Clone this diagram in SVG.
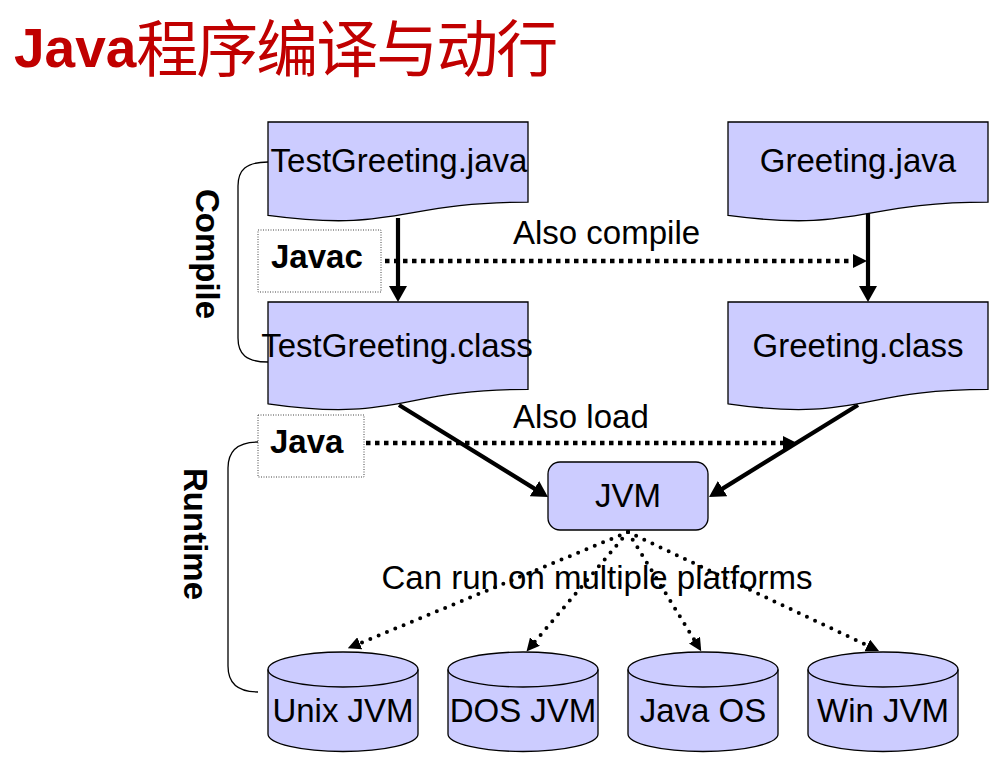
<svg xmlns="http://www.w3.org/2000/svg" width="1007" height="761" viewBox="0 0 1007 761">
<style>
  .node { fill: #ccccff; stroke: #000; stroke-width: 1.3; }
  .lbl { font-family: "Liberation Sans", Arial, sans-serif; font-size: 33px; fill: #000; }
  .bold { font-weight: bold; }
  .mid { text-anchor: middle; }
  .tool { fill: #fff; stroke: #444; stroke-width: 1; stroke-dasharray: 1 1.5; }
  .solid { stroke: #000; stroke-width: 4.2; fill: none; marker-end: url(#ahSolid); }
  .sqdot { stroke: #000; stroke-width: 4.5; fill: none; stroke-dasharray: 4.5 4.5; marker-end: url(#ahSmall); }
  .rdot { stroke: #000; stroke-width: 4; fill: none; stroke-linecap: round; stroke-dasharray: 0 9; marker-end: url(#ahDot); }
  .brace { stroke: #000; stroke-width: 1.3; fill: none; }
</style>
<defs>
  <marker id="ahSolid" markerUnits="userSpaceOnUse" markerWidth="16" markerHeight="18" viewBox="0 0 16 18" refX="10" refY="9" orient="auto">
    <path d="M0,0 L16,9 L0,18 Z" fill="#000"/>
  </marker>
  <marker id="ahSmall" markerUnits="userSpaceOnUse" markerWidth="14" markerHeight="14" viewBox="0 0 14 14" refX="3" refY="7" orient="auto">
    <path d="M0,0 L14,7 L0,14 Z" fill="#000"/>
  </marker>
  <marker id="ahDot" markerUnits="userSpaceOnUse" markerWidth="13" markerHeight="13" viewBox="0 0 13 13" refX="3" refY="6.5" orient="auto">
    <path d="M0,0 L13,6.5 L0,13 Z" fill="#000"/>
  </marker>
</defs>
<rect x="0" y="0" width="1007" height="761" fill="#fff"/>

<text x="14" y="67" font-family="'Liberation Sans', Arial, 'Noto Sans CJK SC', sans-serif" font-size="55" font-weight="bold" fill="#c00000">Java<tspan font-family="'Noto Sans CJK SC', sans-serif" font-weight="normal" font-size="62" letter-spacing="-2" y="72">程序编译与动行</tspan></text>

<g id="brackets">
  <path class="brace" d="M268,162 C246,162 238,170 238,186 V338 C238,354 246,362 268,362"/>
  <path class="brace" d="M258,442 C236,442 228,452 228,468 V666 C228,682 236,692 258,692"/>
  <text class="lbl bold mid" font-size="32" transform="translate(196,254) rotate(90)">Compile</text>
  <text class="lbl bold mid" font-size="32" transform="translate(184,534) rotate(90)">Runtime</text>
</g>

<g id="labels">
  <text class="lbl" x="513" y="244">Also compile</text>
  <text class="lbl" x="513" y="428">Also load</text>
  <text class="lbl mid" x="597" y="589" font-size="34">Can run on multiple platforms</text>
</g>

<g id="connectors">
  <line class="solid" x1="398" y1="218" x2="398" y2="296"/>
  <line class="solid" x1="868" y1="212" x2="868" y2="296"/>
  <line class="solid" x1="399" y1="405" x2="542.9" y2="493.9"/>
  <line class="solid" x1="858" y1="405" x2="714.1" y2="493.9"/>
  <line class="sqdot" x1="385" y1="261" x2="856" y2="261"/>
  <line class="sqdot" x1="366" y1="443" x2="786" y2="443"/>
  <line class="rdot" x1="628" y1="532" x2="357" y2="644.5"/>
  <line class="rdot" x1="628" y1="532" x2="533" y2="643.9"/>
  <line class="rdot" x1="628" y1="532" x2="696" y2="642.7"/>
  <line class="rdot" x1="628" y1="532" x2="870" y2="646.7"/>
</g>

<g id="testgreeting-java">
  <path class="node" d="M268,122 H528 V202.2 C398,202.2 398,232.8 268,215.4 Z"/>
  <text class="lbl mid" x="399" y="172">TestGreeting.java</text>
</g>
<g id="greeting-java">
  <path class="node" d="M728,122 H988 V202.2 C858,202.2 858,232.8 728,215.4 Z"/>
  <text class="lbl mid" x="858" y="172">Greeting.java</text>
</g>
<g id="testgreeting-class">
  <path class="node" d="M268,302 H528 V389.4 C398,389.4 398,422.7 268,403.8 Z"/>
  <text class="lbl mid" x="397" y="357">TestGreeting.class</text>
</g>
<g id="greeting-class">
  <path class="node" d="M728,302 H988 V389.4 C858,389.4 858,422.7 728,403.8 Z"/>
  <text class="lbl mid" x="858" y="357">Greeting.class</text>
</g>

<g id="javac">
  <rect class="tool" x="258" y="230" width="123" height="62"/>
  <text class="lbl bold" x="271" y="268">Javac</text>
</g>
<g id="java">
  <rect class="tool" x="258" y="415" width="106" height="62"/>
  <text class="lbl bold" x="270" y="453">Java</text>
</g>

<g id="jvm">
  <rect class="node" x="548" y="462" width="160" height="68" rx="12" ry="12"/>
  <text class="lbl mid" x="628" y="507">JVM</text>
</g>

<g id="unix-jvm">
  <path class="node" d="M268,669.5 A75,17.5 0 0 1 418,669.5 V734 A75,17.5 0 0 1 268,734 Z"/>
  <path class="brace" d="M268,669.5 A75,17.5 0 0 0 418,669.5"/>
  <text class="lbl mid" x="343" y="722">Unix JVM</text>
</g>
<g id="dos-jvm">
  <path class="node" d="M448,669.5 A75,17.5 0 0 1 598,669.5 V734 A75,17.5 0 0 1 448,734 Z"/>
  <path class="brace" d="M448,669.5 A75,17.5 0 0 0 598,669.5"/>
  <text class="lbl mid" x="523" y="722">DOS JVM</text>
</g>
<g id="java-os">
  <path class="node" d="M628,669.5 A75,17.5 0 0 1 778,669.5 V734 A75,17.5 0 0 1 628,734 Z"/>
  <path class="brace" d="M628,669.5 A75,17.5 0 0 0 778,669.5"/>
  <text class="lbl mid" x="703" y="722">Java OS</text>
</g>
<g id="win-jvm">
  <path class="node" d="M808,669.5 A75,17.5 0 0 1 958,669.5 V734 A75,17.5 0 0 1 808,734 Z"/>
  <path class="brace" d="M808,669.5 A75,17.5 0 0 0 958,669.5"/>
  <text class="lbl mid" x="883" y="722">Win JVM</text>
</g>
</svg>
